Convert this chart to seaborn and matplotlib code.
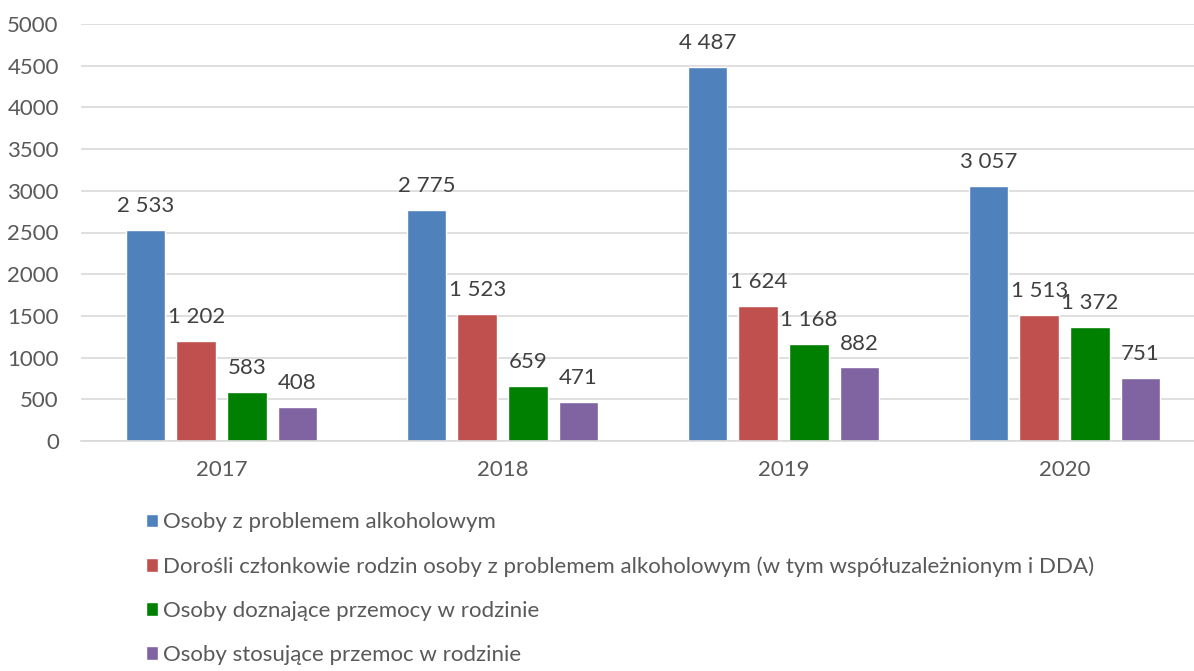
import pandas as pd
import matplotlib.pyplot as plt
import seaborn as sns

years = ['2017', '2018', '2019', '2020']
series = ['Osoby z problemem alkoholowym',
          'Dorośli członkowie rodzin osoby z problemem alkoholowym (w tym współuzależnionym i DDA)',
          'Osoby doznające przemocy w rodzinie',
          'Osoby stosujące przemoc w rodzinie']
alko = [2533, 2775, 4487, 3057]
rodzina = [1202, 1523, 1624, 1513]
doznajace = [583, 659, 1168, 1372]
stosujace = [408, 471, 882, 751]
colors = ['#4F81BD', '#C0504D', '#008000', '#8064A2']

df = pd.DataFrame({
    'rok': years * 4,
    'seria': [s for s in series for _ in years],
    'wartosc': alko + rodzina + doznajace + stosujace,
})

sns.set_style('white')
plt.rcParams['font.family'] = ['Lato', 'DejaVu Sans']

fig = plt.figure(figsize=(11.94, 6.71), dpi=100)
ax = fig.add_axes([81 / 1194, 1 - 441 / 671, 1113 / 1194, 417 / 671])

sns.barplot(data=df, x='rok', y='wartosc', hue='seria', palette=colors,
            saturation=1, width=0.72, gap=0.22, ax=ax, legend=True)

for cont in ax.containers:
    labels = [f'{int(b.get_height()):,}'.replace(',', ' ') for b in cont]
    ax.bar_label(cont, labels=labels, padding=10, fontsize=16, color='#404040')

ax.set_ylim(0, 5000)
ax.set_xlim(-0.5, 1113 / 281 - 0.5)
ax.set_yticks(range(0, 5001, 500))
ax.yaxis.grid(True, color='#D9D9D9', linewidth=1.2)
ax.set_axisbelow(True)
sns.despine(ax=ax, left=True, top=True, right=True)
ax.spines['bottom'].set_color('#D9D9D9')
ax.spines['bottom'].set_linewidth(1.2)
ax.tick_params(axis='both', length=0, labelsize=16, colors='#595959')
ax.tick_params(axis='x', pad=14)
ax.tick_params(axis='y', pad=16)
ax.set_xlabel('')
ax.set_ylabel('')

handles, labs = ax.get_legend_handles_labels()
ax.get_legend().remove()
fig.legend(handles, labs, loc='upper left', bbox_to_anchor=(0.113, 0.253),
           frameon=False, fontsize=16, labelcolor='#595959', borderpad=0,
           labelspacing=1.08, handlelength=0.55, handleheight=0.55,
           handletextpad=0.2)

fig.savefig('out.png', dpi=100)
